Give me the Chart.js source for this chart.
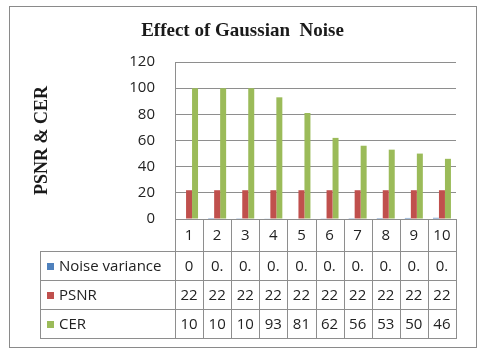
<!DOCTYPE html>
<html><head><meta charset="utf-8">
<script src="https://cdn.jsdelivr.net/npm/chart.js@4.4.1/dist/chart.umd.min.js"></script>
<style>html,body{margin:0;padding:0;background:#fff;overflow:hidden}</style>
</head><body><canvas id="c" width="485" height="353" style="width:485px;height:353px;display:block"></canvas>
<script>
const categories = ['1','2','3','4','5','6','7','8','9','10'];
const noiseVariance = [0, 0.1, 0.2, 0.3, 0.4, 0.5, 0.6, 0.7, 0.8, 0.9];
const psnr = [22, 22, 22, 22, 22, 22, 22, 22, 22, 22];
const cer = [100, 100, 100, 93, 81, 62, 56, 53, 50, 46];
const seriesNames = ['Noise variance', 'PSNR', 'CER'];
const seriesColors = ['#4F81BD', '#C0504D', '#9BBB59'];
const yMin = 0, yMax = 120, yStep = 20;

const LINE = '#8e8e8e';
const TXT = '#222';
const FONT = '"Open Sans", "Liberation Sans", sans-serif';

function fitText(ctx, s, w) {
  let t = s;
  while (t.length > 1 && ctx.measureText(t).width > w) t = t.slice(0, -1);
  return t;
}

const framePlugin = {
  id: 'frame',
  beforeDraw(chart) {
    const ctx = chart.ctx;
    ctx.save();
    ctx.fillStyle = '#fff';
    ctx.fillRect(0, 0, chart.width, chart.height);
    ctx.strokeStyle = '#8a8a8a';
    ctx.lineWidth = 1;
    ctx.strokeRect(9.5, 6.5, 467, 341);
    ctx.restore();
  }
};

const tablePlugin = {
  id: 'dataTable',
  afterDraw(chart) {
    const ctx = chart.ctx;
    const area = chart.chartArea;
    const xs = chart.scales.x;
    const n = categories.length;
    const cw = (area.right - area.left) / n;
    const top = area.bottom;
    const catH = 32;
    const rowH = 29;
    const tableLeft = 40;
    const rowsTop = top + catH;
    const rowsBottom = rowsTop + rowH * 3;
    ctx.save();
    ctx.strokeStyle = LINE;
    ctx.lineWidth = 1;
    ctx.beginPath();
    for (let i = 0; i <= n; i++) {
      const x = Math.round(area.left + i * cw) + 0.5;
      ctx.moveTo(x, top); ctx.lineTo(x, rowsBottom);
    }
    ctx.moveTo(tableLeft + 0.5, rowsTop); ctx.lineTo(tableLeft + 0.5, rowsBottom);
    for (let r = 0; r <= 3; r++) {
      const y = Math.round(rowsTop + r * rowH) + 0.5;
      ctx.moveTo(tableLeft, y); ctx.lineTo(area.right + 1, y);
    }
    ctx.stroke();

    ctx.font = '15px ' + FONT;
    ctx.fillStyle = TXT;
    ctx.textAlign = 'center';
    ctx.textBaseline = 'middle';
    categories.forEach((c, i) => {
      ctx.fillText(c, xs.getPixelForValue(i), top + catH / 2 + 1);
    });
    const rows = [noiseVariance, psnr, cer];
    rows.forEach((vals, r) => {
      const cy = rowsTop + r * rowH + rowH / 2 + 1;
      ctx.fillStyle = seriesColors[r];
      ctx.fillRect(47, Math.round(cy - 4), 7, 7);
      ctx.fillStyle = TXT;
      ctx.textAlign = 'left';
      ctx.fillText(seriesNames[r], 59, cy);
      ctx.textAlign = 'center';
      vals.forEach((v, i) => {
        ctx.fillText(fitText(ctx, String(v), cw - 9), xs.getPixelForValue(i), cy);
      });
    });
    ctx.restore();
  }
};

new Chart(document.getElementById('c'), {
  type: 'bar',
  data: {
    labels: categories,
    datasets: [
      { label: seriesNames[0], data: noiseVariance, backgroundColor: seriesColors[0] },
      { label: seriesNames[1], data: psnr, backgroundColor: seriesColors[1] },
      { label: seriesNames[2], data: cer, backgroundColor: seriesColors[2] }
    ]
  },
  options: {
    responsive: false,
    animation: false,
    devicePixelRatio: 1,
    layout: { padding: { top: 0, left: 29, right: 29, bottom: 134 } },
    datasets: { bar: { barPercentage: 1, categoryPercentage: 0.64 } },
    plugins: {
      legend: { display: false },
      tooltip: { enabled: false },
      title: {
        display: true,
        text: 'Effect of Gaussian  Noise',
        color: '#1a1a1a',
        font: { family: '"Liberation Serif", serif', size: 19, weight: 'bold', lineHeight: 1.2 },
        padding: { top: 19.6, bottom: 19.6 }
      }
    },
    scales: {
      x: { display: false },
      y: {
        min: yMin, max: yMax,
        ticks: { stepSize: yStep, color: TXT, font: { family: FONT, size: 15 }, padding: 20 },
        grid: { color: LINE, drawTicks: false },
        border: { display: true, color: LINE },
        afterFit(scale) { scale.width = 146; },
        title: {
          display: true,
          text: 'PSNR & CER',
          color: '#1a1a1a',
          font: { family: '"Liberation Serif", serif', size: 18, weight: 'bold', lineHeight: 1.2 },
          padding: { top: 2.2, bottom: 0 }
        }
      }
    }
  },
  plugins: [framePlugin, tablePlugin]
});
</script>
</body></html>
